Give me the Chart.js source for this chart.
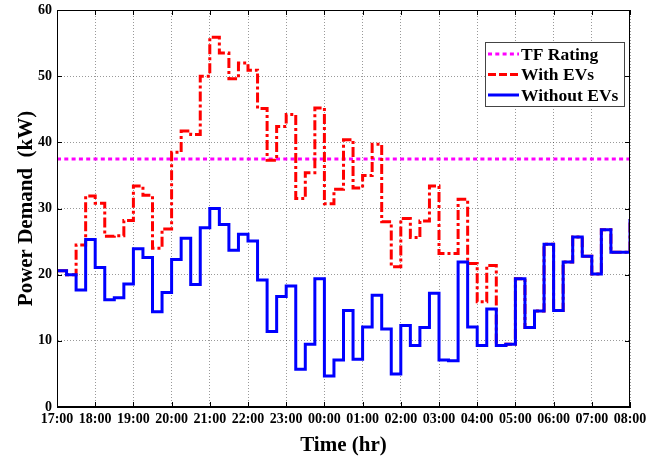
<!DOCTYPE html>
<html>
<head>
<meta charset="utf-8">
<script src="https://cdn.jsdelivr.net/npm/chart.js@4"></script>
<style>
  html, body { margin: 0; padding: 0; background: #fff; }
  #wrap { width: 661px; height: 458px; }
</style>
</head>
<body>
<div id="wrap"><canvas id="demandChart"></canvas></div>
<script>
// hour labels on the x axis (one per hour, 17:00 -> 08:00)
const hourLabels = ['17:00', '18:00', '19:00', '20:00', '21:00', '22:00', '23:00', '00:00',
                    '01:00', '02:00', '03:00', '04:00', '05:00', '06:00', '07:00', '08:00'];

// 15 minute demand values (kW), last entry is the value at 08:00
const withoutEVs = [20.6, 20.0, 17.7, 25.3, 21.1, 16.2, 16.5, 18.6, 23.9, 22.6,
                    14.4, 17.3, 22.3, 25.5, 18.5, 27.1, 30.0, 27.6, 23.7, 26.1,
                    25.1, 19.2, 11.4, 16.7, 18.3, 5.7, 9.5, 19.4, 4.7, 7.1,
                    14.6, 7.2, 12.1, 16.9, 11.8, 5.0, 12.3, 9.3, 12.0, 17.2,
                    7.1, 7.0, 21.9, 12.1, 9.3, 14.8, 9.3, 9.5, 19.4, 12.0,
                    14.5, 24.6, 14.6, 21.9, 25.7, 22.8, 20.1, 26.8, 23.4, 23.4,
                    28.4];

const withEVs = [20.6, 20.0, 24.5, 31.9, 30.8, 25.8, 25.9, 28.2, 33.4, 32.0,
                 24.0, 26.9, 38.5, 41.7, 41.2, 50.0, 55.9, 53.5, 49.6, 52.0,
                 50.9, 45.1, 37.3, 42.4, 44.2, 31.5, 35.4, 45.2, 30.7, 32.9,
                 40.4, 33.1, 35.0, 39.7, 28.0, 21.2, 28.5, 25.6, 28.1, 33.4,
                 23.2, 23.2, 31.4, 21.7, 15.9, 21.4, 9.3, 9.5, 19.4, 12.0,
                 14.5, 24.6, 14.6, 21.9, 25.7, 22.8, 20.1, 26.8, 23.4, 23.4,
                 28.4];

const tfRating = 37.5;

const serif = '"Liberation Serif", "Times New Roman", serif';

function toPoints(arr) {
  return arr.map((v, i) => ({ x: i * 0.25, y: v }));
}

// frame, inward ticks and legend drawn inside the plot like the original
const frameAndLegend = {
  id: 'frameAndLegend',
  afterDraw(chart) {
    const { ctx, chartArea: a, scales } = chart;
    ctx.save();
    ctx.strokeStyle = '#000';
    ctx.lineWidth = 1;
    ctx.beginPath();
    scales.x.ticks.forEach(t => {
      const px = Math.round(scales.x.getPixelForValue(t.value)) + 0.5;
      ctx.moveTo(px, a.bottom); ctx.lineTo(px, a.bottom - 5);
      ctx.moveTo(px, a.top); ctx.lineTo(px, a.top + 5);
    });
    scales.y.ticks.forEach(t => {
      const py = Math.round(scales.y.getPixelForValue(t.value)) + 0.5;
      ctx.moveTo(a.left, py); ctx.lineTo(a.left + 5, py);
      ctx.moveTo(a.right, py); ctx.lineTo(a.right - 5, py);
    });
    ctx.stroke();
    ctx.strokeRect(a.left + 0.5, a.top + 0.5, a.right - a.left - 1, a.bottom - a.top - 1);

    // legend box
    const bx = 485, by = 42, bw = 139, bh = 64;
    ctx.fillStyle = '#fff';
    ctx.fillRect(bx, by, bw, bh);
    ctx.strokeStyle = '#444';
    ctx.strokeRect(bx + 0.5, by + 0.5, bw, bh);
    ctx.font = 'bold 17.5px ' + serif;
    ctx.textBaseline = 'middle';
    [0, 1, 2].forEach((di, k) => {
      const ds = chart.data.datasets[di];
      const y = by + 12 + k * 20.5;
      ctx.beginPath();
      ctx.strokeStyle = ds.borderColor;
      ctx.lineWidth = ds.borderWidth;
      ctx.setLineDash(di === 1 ? [8, 3] : (ds.borderDash || []));
      ctx.moveTo(bx + 3, y); ctx.lineTo(bx + 34, y);
      ctx.stroke();
      ctx.setLineDash([]);
      ctx.fillStyle = '#000';
      ctx.fillText(ds.label, bx + 36, y + 1);
    });
    ctx.restore();
  }
};

new Chart(document.getElementById('demandChart'), {
  type: 'line',
  data: {
    datasets: [
      {
        label: 'TF Rating',
        data: [{ x: 0, y: tfRating }, { x: 15, y: tfRating }],
        borderColor: '#ff00ff',
        borderWidth: 3,
        borderDash: [4, 3.3],
        pointRadius: 0,
        order: 2
      },
      {
        label: 'With EVs',
        data: toPoints(withEVs),
        borderColor: '#ff0000',
        borderWidth: 3,
        borderDash: [10, 3, 3, 3],
        stepped: 'before',
        pointRadius: 0,
        order: 1
      },
      {
        label: 'Without EVs',
        data: toPoints(withoutEVs),
        borderColor: '#0000ff',
        borderWidth: 3,
        stepped: 'before',
        pointRadius: 0,
        order: 0
      }
    ]
  },
  options: {
    responsive: true,
    maintainAspectRatio: false,
    animation: false,
    layout: { padding: { top: 10, right: 31, left: 0, bottom: 0 } },
    plugins: {
      legend: { display: false },
      tooltip: { enabled: false }
    },
    scales: {
      x: {
        type: 'linear',
        min: 0,
        max: 15,
        afterFit: s => { s.height = 51; },
        ticks: {
          stepSize: 1,
          autoSkip: false,
          maxRotation: 0,
          padding: 4,
          color: '#000',
          font: { family: serif, size: 14, weight: 'bold' },
          callback: v => hourLabels[v]
        },
        grid: { color: 'rgba(0,0,0,0.4)', tickLength: 0 },
        border: { dash: [1, 2], color: '#000' },
        title: {
          display: true,
          text: 'Time (hr)',
          color: '#000',
          padding: { top: 0, bottom: 0 },
          font: { family: serif, size: 21, weight: 'bold' }
        }
      },
      y: {
        min: 0,
        max: 60,
        afterFit: s => { s.width = 57; s.paddingTop = 0; s.paddingBottom = 0; },
        ticks: {
          stepSize: 10,
          padding: 5,
          color: '#000',
          font: { family: serif, size: 14, weight: 'bold' }
        },
        grid: { color: 'rgba(0,0,0,0.4)', tickLength: 0 },
        border: { dash: [1, 2], color: '#000' },
        title: {
          display: true,
          text: 'Power Demand  (kW)',
          color: '#000',
          padding: { top: 14, bottom: 0 },
          font: { family: serif, size: 21, weight: 'bold' }
        }
      }
    }
  },
  plugins: [frameAndLegend]
});
</script>
</body>
</html>
